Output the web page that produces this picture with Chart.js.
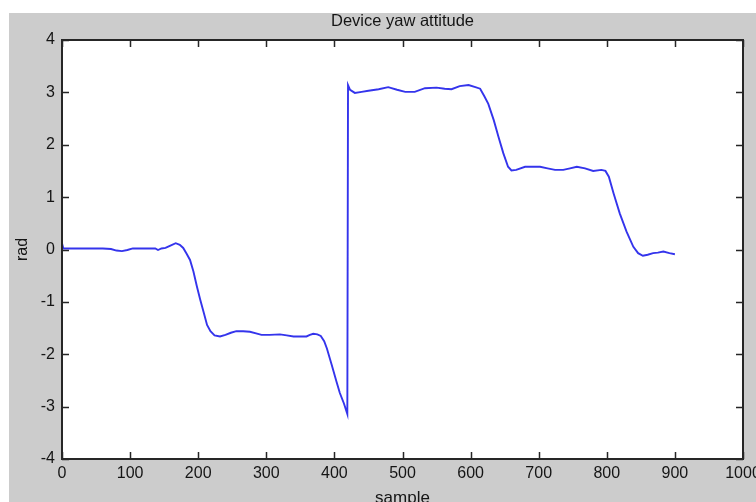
<!DOCTYPE html>
<html>
<head>
<meta charset="utf-8">
<title>Device yaw attitude</title>
<script src="https://cdn.jsdelivr.net/npm/chart.js@4/dist/chart.umd.min.js"></script>
<style>
    html, body { margin: 0; padding: 0; background: #fff; }
    #wrap { position: absolute; left: 9px; top: 13px; width: 747px; height: 489px; background: #cccccc; overflow: hidden; }
    canvas { display: block; }
</style>
</head>
<body>
<div id="wrap"><canvas id="yawChart" width="747" height="489"></canvas></div>
<script>
// sample index and yaw angle (rad)
const samples = [
    0, 2, 20, 40, 60, 72, 80, 88, 96, 104, 120, 137, 141, 146, 152, 160, 167, 173, 178, 183,
    188, 193, 198, 203, 208, 213, 218, 224, 232, 240, 248, 256, 266, 276, 285, 293, 305, 320, 330, 340,
    350, 359, 364, 369, 375, 380, 385, 389, 396, 403, 408, 414, 419, 420, 423, 430, 440, 450, 465, 479,
    492, 504, 518, 533, 550, 562, 572, 584, 597, 607, 614, 620, 626, 634, 641, 648, 655, 660, 667, 680,
    690, 702, 713, 724, 736, 746, 756, 768, 780, 792, 798, 803, 810, 819, 829, 839, 846, 853, 860, 868,
    875, 883, 892, 900
];
const yaw = [
    0.12, 0.02, 0.02, 0.02, 0.02, 0.01, -0.02, -0.03, -0.01, 0.02, 0.02, 0.02, -0.01, 0.02, 0.03, 0.08, 0.12, 0.09, 0.03, -0.08,
    -0.20, -0.42, -0.70, -0.96, -1.20, -1.44, -1.56, -1.64, -1.66, -1.63, -1.59, -1.56, -1.56, -1.57, -1.60, -1.63, -1.63, -1.62, -1.64, -1.66,
    -1.66, -1.66, -1.63, -1.61, -1.62, -1.65, -1.75, -1.89, -2.20, -2.52, -2.74, -2.94, -3.14, 3.14, 3.05, 2.99, 3.01, 3.03, 3.06, 3.10,
    3.05, 3.01, 3.01, 3.08, 3.09, 3.07, 3.06, 3.12, 3.14, 3.10, 3.07, 2.93, 2.78, 2.47, 2.15, 1.84, 1.58, 1.51, 1.52, 1.58,
    1.58, 1.58, 1.55, 1.52, 1.52, 1.55, 1.58, 1.55, 1.50, 1.52, 1.50, 1.39, 1.07, 0.69, 0.34, 0.05, -0.07, -0.12, -0.10, -0.07,
    -0.06, -0.04, -0.07, -0.09
];
const xTicks = [0, 100, 200, 300, 400, 500, 600, 700, 800, 900, 1000];
const yTicks = [-4, -3, -2, -1, 0, 1, 2, 3, 4];

const FONT = "'Liberation Sans', Arial, sans-serif";
const TEXT = "#151515";
const TICK_LEN = 7;

// white axes area, box outline and inward ticks on all four sides (matlab look)
const matlabBox = {
    id: "matlabBox",
    beforeDraw(chart) {
        const { ctx, chartArea: a } = chart;
        ctx.save();
        ctx.fillStyle = "#ffffff";
        ctx.fillRect(a.left, a.top, a.right - a.left, a.bottom - a.top);
        ctx.restore();
    },
    afterDraw(chart) {
        const { ctx, chartArea: a, scales } = chart;
        ctx.save();
        ctx.strokeStyle = "#262626";
        ctx.lineWidth = 1.5;
        ctx.beginPath();
        scales.x.ticks.forEach(t => {
            const px = Math.round(scales.x.getPixelForValue(t.value)) + 0.5;
            ctx.moveTo(px, a.bottom);
            ctx.lineTo(px, a.bottom - TICK_LEN);
            ctx.moveTo(px, a.top);
            ctx.lineTo(px, a.top + TICK_LEN);
        });
        scales.y.ticks.forEach(t => {
            const py = Math.round(scales.y.getPixelForValue(t.value)) + 0.5;
            ctx.moveTo(a.left, py);
            ctx.lineTo(a.left + TICK_LEN, py);
            ctx.moveTo(a.right, py);
            ctx.lineTo(a.right - TICK_LEN, py);
        });
        ctx.stroke();
        ctx.lineWidth = 2;
        ctx.strokeRect(Math.round(a.left), Math.round(a.top),
            Math.round(a.right - a.left), Math.round(a.bottom - a.top));
        ctx.restore();
    }
};

const ctx = document.getElementById("yawChart").getContext("2d");

new Chart(ctx, {
    type: "line",
    data: {
        datasets: [{
            data: samples.map((s, i) => ({ x: s, y: yaw[i] })),
            borderColor: "#3434ec",
            borderWidth: 1.9,
            pointRadius: 0,
            tension: 0,
            fill: false
        }]
    },
    options: {
        responsive: false,
        animation: false,
        devicePixelRatio: 1,
        layout: { padding: { left: 0, top: 0, right: 13, bottom: 0 } },
        plugins: {
            legend: { display: false },
            tooltip: { enabled: false },
            title: {
                display: true,
                text: "Device yaw attitude",
                fullSize: false,
                color: TEXT,
                font: { family: FONT, size: 16.5, weight: "normal", lineHeight: 1 },
                padding: { top: 0, bottom: 10.5 }
            }
        },
        scales: {
            x: {
                type: "linear",
                min: 0,
                max: 1000,
                afterBuildTicks: s => { s.ticks = xTicks.map(v => ({ value: v })); },
                afterFit: s => { s.height = 43; s.paddingLeft = 0; s.paddingRight = 0; },
                grid: { display: false, drawTicks: false },
                border: { display: false },
                ticks: {
                    color: TEXT,
                    padding: 5,
                    maxRotation: 0,
                    autoSkip: false,
                    font: { family: FONT, size: 16 },
                    callback: v => String(v)
                },
                title: {
                    display: true,
                    text: "sample",
                    color: TEXT,
                    font: { family: FONT, size: 17, lineHeight: 1 },
                    padding: { top: 0, bottom: -5 }
                }
            },
            y: {
                type: "linear",
                min: -4,
                max: 4,
                afterBuildTicks: s => { s.ticks = yTicks.map(v => ({ value: v })); },
                afterFit: s => { s.width = 53; },
                grid: { display: false, drawTicks: false },
                border: { display: false },
                ticks: {
                    color: TEXT,
                    padding: 7,
                    autoSkip: false,
                    font: { family: FONT, size: 16 },
                    callback: v => String(v)
                },
                title: {
                    display: true,
                    text: "rad",
                    color: TEXT,
                    font: { family: FONT, size: 16, lineHeight: 1 },
                    padding: { top: 6, bottom: 0 }
                }
            }
        }
    },
    plugins: [matlabBox]
});
</script>
</body>
</html>
